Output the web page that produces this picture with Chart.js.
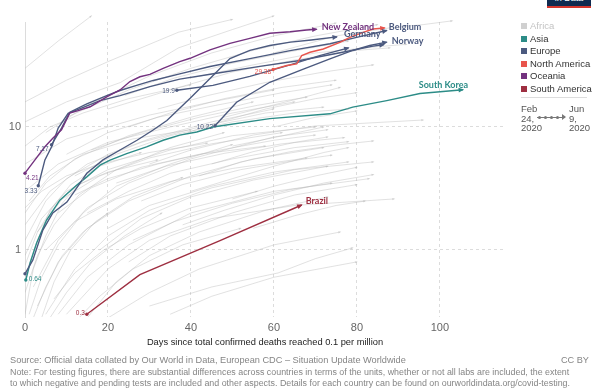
<!DOCTYPE html>
<html>
<head>
<meta charset="utf-8">
<script src="https://cdn.jsdelivr.net/npm/chart.js@4.4.1/dist/chart.umd.min.js"></script>
<style>
  html, body { margin: 0; padding: 0; background: #fff; }
  body { width: 595px; height: 388px; position: relative; overflow: hidden; font-family: "Liberation Sans", Arial, sans-serif; }
  #wrap { position: absolute; left: 0; top: 0; width: 595px; height: 388px; }
  .abs { position: absolute; white-space: nowrap; }
  .key { position: absolute; left: 521px; width: 6px; height: 6px; }
  .keytxt { position: absolute; left: 530px; font-size: 9.5px; line-height: 12px; color: #333; white-space: nowrap; }
  .date { position: absolute; font-size: 9.5px; line-height: 9.5px; color: #555; white-space: nowrap; }
  .foot { position: absolute; left: 10px; font-size: 9.2px; line-height: 11px; color: #858585; white-space: nowrap; }
</style>
</head>
<body>
<div id="wrap"><canvas id="chart-main"></canvas></div>

<!-- logo corner -->
<div class="abs" style="left:547px;top:-9px;width:44px;height:15px;background:#0f2a4f;color:#fff;font-size:9px;line-height:15px;text-align:center;">in Data</div>
<div class="abs" style="left:547px;top:6px;width:44px;height:2px;background:#d4362c;"></div>

<div id="legend"></div>
<div class="abs" style="left:521px;top:97px;width:66px;height:1px;background:#ddd;"></div>
<div class="date" style="left:521px;top:104px;">Feb<br>24,<br>2020</div>
<div class="date" style="left:569px;top:104px;">Jun<br>9,<br>2020</div>
<div class="abs" style="left:537px;top:117px;width:28px;height:1px;background:#777;"></div>
<div id="dots"></div>

<div class="abs" style="left:0;width:530px;top:337px;text-align:center;font-size:9.3px;color:#222;">Days since total confirmed deaths reached 0.1 per million</div>

<div class="foot" style="top:355px;">Source: Official data collated by Our World in Data, European CDC – Situation Update Worldwide</div>
<div class="foot" style="top:355px;left:auto;right:6px;">CC BY</div>
<div class="foot" style="top:367px;font-size:8.9px;">Note: For testing figures, there are substantial differences across countries in terms of the units, whether or not all labs are included, the extent</div>
<div class="foot" style="top:378px;font-size:8.9px;">to which negative and pending tests are included and other aspects. Details for each country can be found on ourworldindata.org/covid-testing.</div>

<script>
// tick labels
var xTicks = [0, 20, 40, 60, 80, 100];
var yTicks = [1, 10];

// highlighted countries: days since threshold / tests per thousand
var nzDays  = [0, 2.4, 4.8, 6.7, 8.8, 10.8, 12.8, 15.7, 19.7, 22.9, 25.3, 27.7, 30.1, 33.3, 37.3, 39.8, 44.6, 49.4, 54.2, 59, 63.9, 67.9, 70.3];
var nzTests = [4.21, 5.4, 6.9, 8.1, 9.5, 13.0, 13.6, 14.6, 17.6, 20, 23.4, 25.6, 26.8, 30, 34, 36.2, 42.3, 47.9, 52.6, 57.8, 59.5, 61.4, 62.3];

var beDays  = [6.4, 8.8, 10.8, 14.9, 19.7, 22.9, 26.9, 30.9, 37.3, 44.6, 54.2, 63.9, 73.5, 80.7, 87.2];
var beTests = [7.17, 9.8, 13.2, 15.4, 18.0, 19.8, 21.8, 23.9, 27.0, 31.0, 36.0, 41.8, 47.5, 54.3, 60.9];

var deDays  = [0, 1.9, 4.3, 6.7, 10.1, 14.9, 18.8, 22.9, 27, 30.8, 34.2, 39.8, 44.6, 49.4, 54.2, 59, 64, 69, 75.2];
var deTests = [0.64, 0.83, 1.45, 2.0, 2.45, 4.2, 5.4, 6.5, 7.8, 9.4, 11.3, 17.1, 24.8, 36, 42, 46, 49, 51, 54];

var noDays  = [45.8, 51, 59, 67.1, 73.5, 79, 83.1, 87.2];
var noTests = [10.22, 15.9, 23.1, 29.6, 35.8, 41.9, 46, 49];

var euADays  = [3.2, 4.8, 6.5, 8, 10.4, 13.3, 18.1, 22.9, 30.1, 37.3, 45.8, 56.6, 66.3, 75.9, 83.6, 86.5];
var euATests = [3.33, 5.4, 7.0, 9.8, 12.9, 14.1, 16.4, 18.0, 21.3, 24.5, 27.2, 31.1, 34.7, 40.1, 45.2, 46.8];

var euBDays  = [36.6, 45.3, 54.2, 63.9, 71, 78];
var euBTests = [19.9, 21.8, 25.8, 32, 38, 44];

var usDays  = [59.8, 63.1, 65.5, 66.7, 68.7, 71.9, 75.9, 78.3, 81.5, 83.9, 86.7];
var usTests = [29.38, 31.6, 32.6, 38.1, 40.5, 43.1, 48.8, 53.5, 58.8, 62.6, 63.9];

var krDays  = [0.2, 1.2, 2.8, 5.2, 8.4, 12.5, 14.9, 18.1, 20.5, 24.5, 29.3, 33.3, 37.3, 41.4, 45.3, 59, 73.5, 79, 87.2, 95.2, 105.6];
var krTests = [0.57, 0.78, 1.14, 1.75, 2.54, 3.37, 3.93, 4.89, 5.37, 6.08, 6.88, 7.8, 8.58, 9.1, 10, 11.7, 12.8, 14.5, 16.4, 18.7, 20.1];

var brDays  = [14.9, 27.7, 47, 66.7];
var brTests = [0.3, 0.63, 1.19, 2.32];

// all other countries, [day, tests per thousand]
var otherCountries = [
  [[0,30],[8,50],[16,80]],
  [[0,16],[10,24],[20,34],[37,59],[50,75]],
  [[0,11],[10,16],[23,23],[37,44],[50,62],[60,80]],
  [[5,9],[15,15],[30,26],[45,40],[60,55],[75,70]],
  [[10,12],[25,20],[40,30],[55,42],[70,55],[85,68]],
  [[60,40],[75,55],[88,64],[96,68],[103,73]],
  [[40,25],[55,32],[70,40],[85,45],[92,47]],
  [[20,14],[35,20],[50,28],[65,35],[80,42],[88,44]],
  [[0,1.2],[5,2.5],[10,3.8],[20,6],[30,8],[45,11],[60,14]],
  [[0,0.9],[4,1.8],[10,3],[20,4.5],[35,6.5],[50,8.5],[70,10]],
  [[0,2],[5,3.5],[12,5.5],[25,8.5],[40,12],[55,16]],
  [[2,0.5],[8,1.2],[15,2.2],[25,3.5],[40,5.5],[60,8.3],[73,9.5]],
  [[3,0.35],[8,0.8],[15,1.5],[25,2.5],[40,4],[55,5.5],[72,6.8]],
  [[5,0.3],[12,0.7],[20,1.3],[30,2.1],[45,3.2],[65,4.5],[84,5.2]],
  [[8,0.3],[15,0.6],[25,1.1],[40,2],[60,3],[83,3.8]],
  [[10,0.3],[20,0.7],[30,1.2],[45,1.8],[65,2.3],[89,2.6]],
  [[0,3],[8,5],[20,7.5],[35,10],[50,13],[65,16]],
  [[0,5],[10,8],[20,10],[30,12.5],[45,16],[60,20]],
  [[15,2],[25,3],[35,4.2],[50,5.5],[65,6.8],[78,7.6]],
  [[20,1.5],[30,2.3],[45,3.3],[60,4.3],[78,5.2]],
  [[25,0.8],[35,1.3],[50,2],[65,2.8],[80,3.4]],
  [[30,0.35],[45,0.5],[61,0.65],[70,0.85],[79,1.04]],
  [[35,0.3],[45,0.42],[60,0.6],[80,0.8]],
  [[1,0.3],[4,0.6],[8,1.1],[14,2],[22,3.3],[35,5],[50,7.2]],
  [[0,0.45],[3,0.9],[7,1.6],[13,2.8],[22,4.5],[35,6.8],[48,9]],
  [[0,1.6],[6,3],[15,5],[28,7.5],[42,10],[58,13],[72,14.5]],
  [[12,4],[22,6],[35,8.5],[50,11],[65,13],[78,14]],
  [[18,1],[28,1.8],[40,2.7],[55,3.7],[73,4.8]],
  [[40,3],[50,3.8],[60,4.8],[72,6.2],[78,6.8]],
  [[45,5],[55,6.3],[65,7.5],[73,8.3]],
  [[50,7],[60,8.2],[72,10]],
  [[30,5],[40,6.5],[55,8.6],[70,10.2],[96,11.4]],
  [[2,0.28],[5,0.5],[9,0.9],[14,1.4],[20,2]],
  [[6,0.28],[10,0.45],[16,0.8],[24,1.3],[33,2]],
  [[13,0.28],[18,0.42],[26,0.7],[38,1.1],[52,1.5]],
  [[20,0.28],[30,0.45],[42,0.7],[60,1.1],[76,1.4]],
  [[0,7],[6,10],[14,13],[25,17],[40,22]],
  [[25,10],[35,13],[48,17],[62,21],[75,24]],
  [[55,1.5],[65,1.9],[75,2.3],[82,2.5]],
  [[60,10],[70,12],[80,13.5]],
  [[5,1],[12,1.7],[22,2.6],[35,3.6],[50,4.6],[68,5.6]],
  [[1,2.5],[6,4],[14,6],[26,8],[40,9.5]],
  [[35,8],[45,10.5],[58,14],[70,17],[80,19]],
  [[0,0.3],[2,0.7],[5,1.3],[9,2.4],[14,3.8]],
  [[8,2],[16,3.2],[28,4.7],[42,6],[58,7]],
  [[0,0.6],[3,1.2],[6,2.1],[11,3.4],[18,4.8],[28,6.2]],
  [[4,0.28],[7,0.55],[11,1],[17,1.7],[26,2.7],[38,3.9]],
  [[15,0.28],[22,0.55],[30,0.9],[42,1.4],[58,2.1],[73,2.7]],
  [[10,6],[20,9],[32,12],[46,15],[62,19],[74,22]],
  [[28,2.5],[38,3.4],[52,4.5],[66,5.4],[74,5.9]],
  [[0,2.2],[4,3],[10,4],[18,5],[30,6.2],[44,7.4]],
  [[48,12],[56,14],[66,17],[76,21]],
  [[22,3.5],[34,4.8],[48,6.1],[62,7.3],[77,8.2]],
  [[38,1.6],[48,2.1],[60,2.8],[72,3.5],[84,4.1]],
  [[42,4],[52,5.2],[64,6.3],[76,7.2],[84,7.7]],
  [[26,1.2],[36,1.7],[50,2.4],[64,3.1],[74,3.5]],
  [[3,1.4],[9,2.6],[18,4],[30,5.6],[45,7.3],[62,9]],
  [[16,6.5],[28,9],[42,12],[56,15],[68,17.5]],
  [[32,14],[44,18],[58,23],[72,28],[84,32]],
  [[12,2.8],[20,3.8],[32,5],[46,6.4],[60,7.8],[70,8.6]],
  [[50,2.6],[60,3.3],[70,4],[80,4.7]],
  [[7,0.4],[12,0.65],[19,1],[28,1.5],[40,2.2],[56,3]],
  [[24,18],[36,25],[50,33],[64,41],[78,50]],
  [[0,0.75],[3,1.4],[7,2.3],[12,3.3],[20,4.3],[32,5.4]]
];

var regions = ['Africa', 'Asia', 'Europe', 'North America', 'Oceania', 'South America'];

var regionColors = ['#d0d0d0', '#2c8c87', '#4c5a7f', '#e8544c', '#73327f', '#9e2f41'];
var asia = regionColors[1], europe = regionColors[2], northAmerica = regionColors[3],
    oceania = regionColors[4], southAmerica = regionColors[5];

function toPoints(days, vals) {
  return days.map(function (d, i) { return { x: d, y: vals[i] }; });
}

// highlighted series, with label placement [dx, dy, align]
var highlighted = [
  { data: toPoints(nzDays, nzTests), color: oceania, start: '4.21', startAt: [1, 5, 'left'], end: 'New Zealand', endAt: [5, -2, 'left'] },
  { data: toPoints(usDays, usTests), color: northAmerica, start: '29.38', startAt: [-2, 3, 'right'] },
  { data: toPoints(beDays, beTests), color: europe, start: '7.17', startAt: [-3, 4, 'right'], end: 'Belgium', endAt: [2, -3, 'left'] },
  { data: toPoints(deDays, deTests), color: europe, end: 'Germany', endAt: [7, -3, 'left'] },
  { data: toPoints(noDays, noTests), color: europe, start: '10.22', startAt: [-2, 1, 'right'], end: 'Norway', endAt: [5, -1, 'left'] },
  { data: toPoints(euADays, euATests), color: europe, start: '3.33', startAt: [-1, 5, 'right'] },
  { data: toPoints(euBDays, euBTests), color: europe, start: '19.9', startAt: [-2, 1, 'right'] },
  { data: toPoints(krDays, krTests), color: asia, start: '0.64', startAt: [3, -1, 'left'], end: 'South Korea', endAt: [5, -5, 'right'] },
  { data: toPoints(brDays, brTests), color: southAmerica, start: '0.3', startAt: [-2, -1, 'right'], end: 'Brazil', endAt: [4, -4, 'left'] }
];

var datasets = [];
highlighted.forEach(function (h) {
  datasets.push({
    data: h.data,
    borderColor: h.color,
    borderWidth: 1.4,
    pointRadius: 0,
    tension: 0,
    clip: 8,
    startText: h.start, startAt: h.startAt,
    endText: h.end, endAt: h.endAt,
    arrow: 4.5, startDot: true
  });
});
otherCountries.forEach(function (c) {
  datasets.push({
    data: c.map(function (p) { return { x: p[0], y: p[1] }; }),
    borderColor: 'rgba(180,180,180,0.45)',
    borderWidth: 0.9,
    pointRadius: 0,
    tension: 0,
    clip: { left: 0, top: 10, right: 0, bottom: 0 },
    arrow: 2
  });
});

// arrow heads and labels drawn on the library's pixel positions
var labelPlugin = {
  id: 'lineLabels',
  afterDatasetsDraw: function (chart) {
    var ctx = chart.ctx;
    chart.data.datasets.forEach(function (ds, i) {
      var pts = chart.getDatasetMeta(i).data;
      if (pts.length < 2) return;
      var a = pts[pts.length - 2], b = pts[pts.length - 1];
      if (b.y < chart.chartArea.top - 10) return;
      var ang = Math.atan2(b.y - a.y, b.x - a.x);
      var s = ds.arrow;
      ctx.save();
      ctx.fillStyle = ds.borderColor;
      ctx.translate(b.x, b.y);
      ctx.rotate(ang);
      ctx.beginPath();
      ctx.moveTo(1, 0);
      ctx.lineTo(-s, -s * 0.55);
      ctx.lineTo(-s, s * 0.55);
      ctx.closePath();
      ctx.fill();
      ctx.restore();

      var p0 = pts[0];
      ctx.save();
      ctx.fillStyle = ds.borderColor;
      if (ds.startDot) {
        ctx.beginPath();
        ctx.arc(p0.x, p0.y, 1.7, 0, Math.PI * 2);
        ctx.fill();
      }
      ctx.textBaseline = 'middle';
      if (ds.startText) {
        ctx.font = '6.5px "Liberation Sans"';
        ctx.textAlign = ds.startAt[2];
        ctx.fillText(ds.startText, p0.x + ds.startAt[0], p0.y + ds.startAt[1]);
      }
      if (ds.endText) {
        ctx.font = 'bold 9px Lato';
        ctx.textAlign = ds.endAt[2];
        ctx.fillText(ds.endText, b.x + ds.endAt[0], b.y + ds.endAt[1]);
      }
      ctx.restore();
    });
  }
};

Chart.defaults.font.family = '"Liberation Sans"';
var ctx = document.getElementById('chart-main').getContext('2d');

new Chart(ctx, {
  type: 'line',
  data: { datasets: datasets },
  options: {
    responsive: true,
    maintainAspectRatio: false,
    animation: false,
    layout: { padding: { left: 0, top: 22, right: 90, bottom: 51 } },
    plugins: {
      legend: { display: false },
      tooltip: { enabled: false }
    },
    scales: {
      x: {
        type: 'linear',
        min: 0,
        max: 115.7,
        afterBuildTicks: function (scale) {
          scale.ticks = xTicks.map(function (v) { return { value: v }; });
        },
        afterFit: function (scale) { scale.height = 20; },
        grid: { color: '#dcdcdc', drawTicks: false },
        border: { display: false, dash: [3, 3] },
        ticks: { color: '#666', padding: 4, font: { size: 11 } }
      },
      y: {
        type: 'logarithmic',
        min: 0.285,
        max: 71.4,
        afterBuildTicks: function (scale) {
          scale.ticks = yTicks.map(function (v) { return { value: v }; });
        },
        afterFit: function (scale) { scale.width = 25; },
        grid: { color: '#dcdcdc', drawTicks: false },
        border: { display: true, color: '#dcdcdc', dash: [3, 3] },
        ticks: {
          color: '#666',
          padding: 4,
          font: { size: 11 },
          callback: function (v) { return String(v); }
        }
      }
    }
  },
  plugins: [labelPlugin]
});

// legend
var legendHtml = '';
var rowTops = [23, 35.5, 48, 60.5, 73, 86];
regions.forEach(function (r, i) {
  legendHtml += '<div class="key" style="top:' + (rowTops[i]) + 'px;background:' + regionColors[i] + ';"></div>';
  legendHtml += '<div class="keytxt" style="top:' + (rowTops[i] - 3) + 'px;color:' + (i === 0 ? '#c4c4c4' : '#333') + ';">' + r + '</div>';
});
document.getElementById('legend').innerHTML = legendHtml;

var dotHtml = '';
[538, 544, 550, 556].forEach(function (x) {
  dotHtml += '<div class="abs" style="left:' + x + 'px;top:115.5px;width:3px;height:3px;border-radius:2px;background:#777;"></div>';
});
dotHtml += '<div class="abs" style="left:562px;top:114px;width:0;height:0;border-top:3px solid transparent;border-bottom:3px solid transparent;border-left:4px solid #777;"></div>';
document.getElementById('dots').innerHTML = dotHtml;
</script>
</body>
</html>
